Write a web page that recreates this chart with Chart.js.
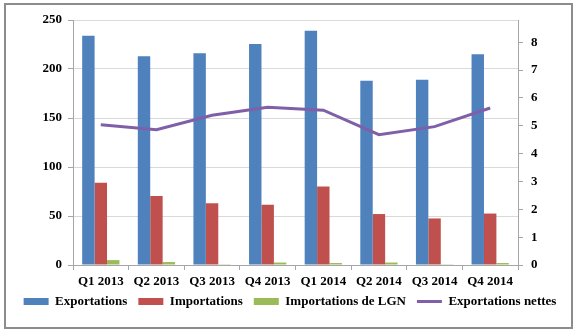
<!DOCTYPE html>
<html>
<head>
<meta charset="utf-8">
<script src="https://cdn.jsdelivr.net/npm/chart.js@4"></script>
<style>
  body { margin: 0; background: #fff; }
  #cadre { position: absolute; left: 4px; top: 3px; width: 565px; height: 322px; border: 2px solid #8c8c8c; }
  #graph { position: absolute; left: 0; top: 0; }
</style>
</head>
<body>
<div id="cadre"></div>
<canvas id="graph" width="580" height="331"></canvas>
<script>
const trimestres = ['Q1 2013', 'Q2 2013', 'Q3 2013', 'Q4 2013', 'Q1 2014', 'Q2 2014', 'Q3 2014', 'Q4 2014'];
const exportations = [234, 213, 216, 225.5, 239, 188, 189, 215];
const importations = [84, 70.5, 63, 61.5, 80, 52, 47.5, 52.5];
const importationsLGN = [5, 3, 0.8, 2.5, 2, 2.5, 0.8, 2];
const exportationsNettes = [5.04, 4.86, 5.38, 5.67, 5.56, 4.68, 4.97, 5.64];

const police = { family: '"Liberation Serif", "Times New Roman", serif', size: 13, weight: 'bold' };
const gris = '#a6a6a6';

const ctx = document.getElementById('graph');

// remonte un peu la légende, plus près des étiquettes de l'axe x
const remonteLegende = {
    id: 'remonteLegende',
    afterLayout(chart) {
        chart.legend.top -= 9;
        chart.legend.bottom -= 9;
    }
};

new Chart(ctx, {
    data: {
        labels: trimestres,
        datasets: [
            { type: 'line', label: 'Exportations nettes', data: exportationsNettes, yAxisID: 'y2',
              borderColor: '#7f60a8', backgroundColor: '#7f60a8', borderWidth: 3, pointRadius: 0,
              pointStyle: 'line', tension: 0, order: 0 },
            { type: 'bar', label: 'Exportations', data: exportations, yAxisID: 'y',
              backgroundColor: '#4f81bd', pointStyle: 'rect', order: 1 },
            { type: 'bar', label: 'Importations', data: importations, yAxisID: 'y',
              backgroundColor: '#c0504d', pointStyle: 'rect', order: 2 },
            { type: 'bar', label: 'Importations de LGN', data: importationsLGN, yAxisID: 'y',
              backgroundColor: '#9bbb59', pointStyle: 'rect', order: 3 },
        ]
    },
    options: {
        responsive: false,
        animation: false,
        datasets: { bar: { categoryPercentage: 0.67, barPercentage: 1 } },
        layout: { padding: { top: 20, left: 0, right: 0, bottom: 4 } },
        scales: {
            x: {
                offset: true,
                grid: { offset: true, drawOnChartArea: false, color: gris, tickLength: 5 },
                border: { color: gris },
                ticks: { color: '#000', font: { ...police, lineHeight: 1 }, maxRotation: 0, padding: 5 }
            },
            y: {
                position: 'left',
                min: 0, max: 250,
                ticks: { stepSize: 50, color: '#000', font: police, padding: 6 },
                grid: { color: '#d9d9d9', tickLength: 5, tickColor: gris },
                border: { color: gris },
                afterFit: (scale) => { scale.width = 73; }
            },
            y2: {
                position: 'right',
                min: 0, max: 8.8,
                ticks: { stepSize: 1, color: '#000', font: police, padding: 8 },
                afterBuildTicks: (scale) => { scale.ticks = scale.ticks.filter(t => Number.isInteger(t.value)); },
                grid: { drawOnChartArea: false, tickLength: 5, color: gris },
                border: { color: gris },
                afterFit: (scale) => { scale.width = 62; }
            }
        },
        plugins: {
            legend: {
                position: 'bottom',
                labels: {
                    usePointStyle: true,
                    pointStyleWidth: 25,
                    boxHeight: 7,
                    color: '#000',
                    font: police,
                    padding: 11,
                    sort: (a, b) => a.datasetIndex === 0 ? 1 : (b.datasetIndex === 0 ? -1 : a.datasetIndex - b.datasetIndex)
                }
            },
            tooltip: { enabled: false }
        }
    },
    plugins: [remonteLegende]
});
</script>
</body>
</html>
